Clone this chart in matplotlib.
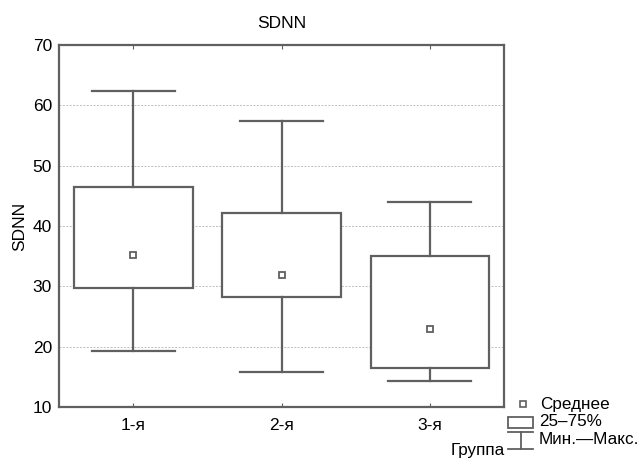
import matplotlib
matplotlib.use("Agg")
from matplotlib import pyplot as plt
from matplotlib.lines import Line2D
from matplotlib.patches import Rectangle

plt.rcParams['font.family'] = ['Liberation Sans', 'DejaVu Sans']

groups = ["1-я", "2-я", "3-я"]
q1 = [29.8, 28.2, 16.4]
q3 = [46.4, 42.2, 35.0]
means = [35.2, 31.8, 22.9]
mins = [19.2, 15.8, 14.3]
maxs = [62.4, 57.4, 44.0]

grey = "#606060"
W, H = 641, 459

fig = plt.figure(figsize=(W / 100, H / 100), dpi=100)
ax = fig.add_axes([59 / W, 1 - 407 / H, (504 - 59) / W, (407 - 45) / H])

stats = []
for i in range(len(groups)):
    stats.append(dict(label=groups[i], q1=q1[i], q3=q3[i], med=means[i],
                      mean=means[i], whislo=mins[i], whishi=maxs[i], fliers=[]))

ax.bxp(stats, positions=range(len(groups)), widths=0.8, capwidths=0.56,
       patch_artist=True, showmeans=True, showfliers=False,
       boxprops=dict(facecolor="white", edgecolor=grey, linewidth=1.6),
       whiskerprops=dict(color=grey, linewidth=1.6),
       capprops=dict(color=grey, linewidth=1.6),
       medianprops=dict(linewidth=0),
       meanprops=dict(marker="s", markersize=5, markerfacecolor="white",
                      markeredgecolor=grey, markeredgewidth=1.3))

ax.set_xlim(-0.5, 2.5)
ax.set_ylim(10, 70)
ax.set_yticks(range(10, 71, 10))
ax.set_xticks(range(len(groups)))
ax.set_xticklabels(groups)
ax.yaxis.grid(True, linestyle=(0, (2, 1.5)), color="#bdbdbd", linewidth=0.7)
ax.set_axisbelow(True)
ax.tick_params(direction="in", top=True, length=3, color=grey, labelsize=12.5, pad=8)
ax.tick_params(axis="y", length=0, pad=5)
for s in ax.spines.values():
    s.set_color(grey)
    s.set_linewidth(1.6)

ax.set_title("SDNN", fontsize=12.5, pad=12)
ax.set_ylabel("SDNN", fontsize=12.5, labelpad=4)


def px(x, y):
    return (x / W, 1 - y / H)


def fline(x0, y0, x1, y1):
    a, b = px(x0, y0)
    c, d = px(x1, y1)
    fig.add_artist(Line2D([a, c], [b, d], color=grey, linewidth=1.3,
                          transform=fig.transFigure))


# legend drawn outside the axes
mx, my = px(522.5, 404)
fig.add_artist(Line2D([mx], [my], marker="s", markersize=5, markerfacecolor="white",
                      markeredgecolor=grey, markeredgewidth=1.2, transform=fig.transFigure))
bx, by = px(508, 428)
fig.add_artist(Rectangle((bx, by), 25 / W, 11.5 / H, facecolor="white", edgecolor=grey,
                         linewidth=1.3, transform=fig.transFigure))
fline(508, 432, 533, 432)
fline(520.5, 432, 520.5, 449)
fline(508, 449, 533, 449)

fig.text(*px(540, 405), "Среднее", fontsize=12.3, va="center", ha="left")
fig.text(*px(539, 422), "25–75%", fontsize=12.3, va="center", ha="left")
fig.text(*px(539, 440), "Мин.—Макс.", fontsize=12.3, va="center", ha="left")
fig.text(*px(505, 450), "Группа", fontsize=12.3, va="center", ha="right")

fig.savefig("out.png", dpi=100)
